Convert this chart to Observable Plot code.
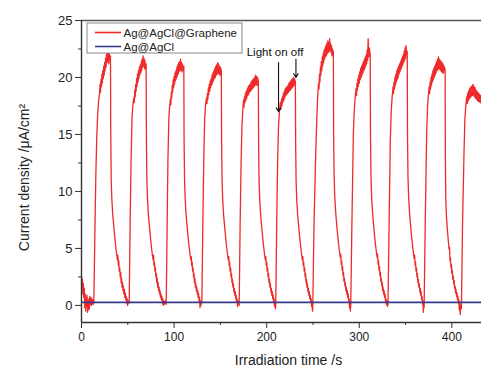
<!DOCTYPE html>
<html>
<head>
<meta charset="utf-8">
<script src="https://cdn.jsdelivr.net/npm/d3@7"></script>
<script src="https://cdn.jsdelivr.net/npm/@observablehq/plot@0.6"></script>
<style>
  body { margin: 0; background: #fff; }
  #chart { width: 481px; height: 369px; overflow: hidden; }
</style>
</head>
<body>
<div id="chart"></div>
<script>
// ---- data: [time (s), current density (µA/cm²)] pairs ----
const pre = [0,2.6, 0.5,1.7, 1,2.3, 1.5,1.0, 2,1.9, 2.5,0.7, 3,1.5, 3.5,-0.2, 4,1.0, 4.5,-0.5, 5,0.7, 5.5,-0.1, 6,0.9, 6.5,-0.6, 7,0.4, 7.5,-0.4, 8,0.6, 8.5,-0.3, 9,0.8, 9.5,0.1, 10,0.7, 10.5,0.0, 11,0.6, 11.5,0.1, 12,0.5, 12.5,0.1, 13,0.4];
const cycle1 = [13.3,0.2, 14.5,6.5, 15.5,11.5, 16.5,14.8, 17.5,16.8, 18.5,18.0, 19.5,18.6, 20,19.4, 20.5,18.7, 21,19.8, 21.5,19.2, 22,20.3, 22.5,19.5, 23,20.6, 23.5,19.9, 24,21.0, 24.5,20.2, 25,21.3, 25.5,20.6, 26,21.7, 26.5,20.9, 27,22.0, 27.5,21.3, 28,22.4, 28.5,21.4, 29,22.2, 29.5,21.2, 30,22.1, 30.5,21.5, 31.3,21.9, 31.6,15, 32.1,11, 32.8,9.3, 33.8,7.9, 34.8,7.0, 35.8,6.1, 36.8,5.3, 37.8,4.6, 38.8,4.0, 39.3,4.4, 39.8,3.5, 40.3,3.9, 40.8,3.0, 41.3,3.3, 41.8,2.5, 42.3,2.9, 42.8,2.0, 43.3,2.4, 43.8,1.6, 44.3,2.0, 44.8,1.3, 45.3,1.7, 45.8,1.0, 46.3,1.4, 46.8,0.7, 47.3,1.1, 47.8,0.5, 48.3,0.8, 48.8,0.2, 49.3,0.6, 49.8,0.0, 50.5,0.4, 51.5,0.2];
const cycle2 = [52.5,7, 53.5,12.5, 54.6,16.5, 55.5,17.6, 56.5,18.2, 57,17.8, 57.5,18.9, 58,18.3, 58.5,19.4, 59,18.8, 59.5,19.9, 60,19.2, 60.5,20.3, 61,19.6, 61.5,20.6, 62,19.9, 62.5,20.9, 63,20.2, 63.5,21.1, 64,20.4, 64.5,21.4, 65,20.6, 65.5,21.6, 66,20.9, 66.5,21.9, 67,21.0, 67.5,21.7, 68,20.8, 68.5,21.5, 69,20.7, 69.8,21.2, 70.1,14.8, 70.6,11, 71.3,9.3, 72.3,7.9, 73.3,7.0, 74.3,6.1, 75.3,5.3, 76.3,4.6, 77.3,4.0, 77.8,4.4, 78.3,3.5, 78.8,3.8, 79.3,3.0, 79.8,3.3, 80.3,2.5, 80.8,2.8, 81.3,2.0, 81.8,2.4, 82.3,1.6, 82.8,2.0, 83.3,1.3, 83.8,1.6, 84.3,1.0, 84.8,1.3, 85.3,0.7, 85.8,1.0, 86.3,0.5, 86.8,0.8, 87.3,0.2, 87.8,0.6, 88.3,0.0, 88.8,0.4, 89.5,0.1, 90.5,0.4, 91.5,0.1];
const cycle3 = [92.5,7, 93.3,12.5, 94.3,16.3, 95,17.3, 96,18.1, 96.5,17.6, 97,18.7, 97.5,18.2, 98,19.3, 98.5,18.7, 99,19.8, 99.5,19.1, 100,20.1, 100.5,19.4, 101,20.4, 101.5,19.7, 102,20.6, 102.5,19.9, 103,20.9, 103.5,20.1, 104,21.1, 104.5,20.3, 105,21.3, 105.5,20.5, 106,21.4, 106.5,20.6, 107,21.6, 107.5,20.7, 108,21.3, 108.5,20.5, 109,21.2, 109.5,20.6, 110.5,21.0, 110.8,14.5, 111.3,11, 112,9.3, 113,7.9, 114,7.0, 115,6.1, 116,5.3, 117,4.6, 118,4.0, 118.5,4.3, 119,3.5, 119.5,3.8, 120,3.0, 120.5,3.3, 121,2.5, 121.5,2.8, 122,2.0, 122.5,2.4, 123,1.6, 123.5,1.9, 124,1.3, 124.5,1.6, 125,1.0, 125.5,1.3, 126,0.7, 126.5,1.0, 127,0.4, 127.5,0.7, 128,-0.2, 128.5,0.4, 129,0.0, 130,0.3];
const cycle4 = [131,7, 132,12.5, 133,16.3, 134,17.6, 135,18.2, 135.5,17.7, 136,18.6, 136.5,18.1, 137,19.1, 137.5,18.5, 138,19.4, 138.5,18.8, 139,19.7, 139.5,19.1, 140,19.9, 140.5,19.3, 141,20.2, 141.5,19.5, 142,20.4, 142.5,19.7, 143,20.6, 143.5,19.9, 144,20.8, 144.5,20.0, 145,21.0, 145.5,20.2, 146,21.1, 146.5,20.3, 147,21.3, 147.5,20.4, 148,21.2, 148.5,20.3, 149,21.0, 149.5,20.2, 150,20.9, 151,20.6, 151.3,14.5, 151.8,11, 152.5,9.3, 153.5,7.9, 154.5,7.0, 155.5,6.1, 156.5,5.3, 157.5,4.6, 158.5,4.0, 159,4.3, 159.5,3.5, 160,3.8, 160.5,3.0, 161,3.3, 161.5,2.5, 162,2.8, 162.5,2.0, 163,2.3, 163.5,1.6, 164,1.9, 164.5,1.2, 165,1.5, 165.5,0.9, 166,1.2, 166.5,0.6, 167,0.9, 167.5,0.3, 168,0.6, 168.5,-0.1, 169,0.4, 170.3,0.0];
const cycle5 = [171.3,7, 172.3,12.3, 173.3,15.8, 174.3,17.3, 175,18.0, 175.5,17.4, 176,18.3, 176.5,17.8, 177,18.6, 177.5,18.0, 178,18.8, 178.5,18.2, 179,19.0, 179.5,18.4, 180,19.2, 180.5,18.5, 181,19.3, 181.5,18.7, 182,19.4, 182.5,18.8, 183,19.6, 183.5,18.9, 184,19.7, 184.5,19.0, 185,19.8, 185.5,19.1, 186,19.9, 186.5,19.2, 187,20.0, 187.5,19.3, 188,20.2, 188.5,19.4, 189,20.1, 189.5,19.3, 190,20.0, 191,19.7, 191.3,14, 191.8,10.8, 192.5,9.2, 193.5,7.9, 194.5,7.0, 195.5,6.1, 196.5,5.3, 197.5,4.6, 198.5,4.0, 199,4.3, 199.5,3.5, 200,3.8, 200.5,3.0, 201,3.3, 201.5,2.5, 202,2.8, 202.5,2.0, 203,2.3, 203.5,1.6, 204,1.9, 204.5,1.2, 205,1.5, 205.5,0.9, 206,1.2, 206.5,0.6, 207,0.9, 207.5,0.3, 208,0.6, 208.5,-0.1, 209,0.3, 209.5,-0.3, 209.8,0.1];
const cycle6 = [210.8,7, 211.8,12.5, 212.8,15.8, 213.8,17.0, 214.7,17.8, 215.2,17.2, 216,18.1, 216.5,17.5, 217,18.3, 217.5,17.8, 218,18.6, 218.5,18.0, 219,18.8, 219.5,18.2, 220,19.0, 220.5,18.4, 221,19.1, 221.5,18.5, 222,19.2, 222.5,18.6, 223,19.3, 223.5,18.7, 224,19.5, 224.5,18.8, 225,19.6, 225.5,18.9, 226,19.7, 226.5,19.0, 227,19.8, 227.5,19.1, 228,19.9, 228.5,19.2, 229,20.0, 229.5,19.3, 230,19.9, 231,19.6, 231.3,14, 231.8,10.8, 232.5,9.2, 233.5,7.9, 234.5,7.0, 235.5,6.1, 236.5,5.3, 237.5,4.6, 238.5,4.0, 239,4.3, 239.5,3.5, 240,3.8, 240.5,3.0, 241,3.3, 241.5,2.5, 242,2.8, 242.5,2.0, 243,2.3, 243.5,1.6, 244,1.9, 244.5,1.2, 245,1.5, 245.5,0.9, 246,1.2, 246.5,0.6, 247,0.9, 247.5,0.3, 248,0.6, 248.5,-0.1, 249,0.3, 249.5,-0.5, 249.8,-0.1];
const cycle7 = [251,6.5, 252.5,12, 254,16.0, 255,18.2, 256,19.5, 256.5,19.0, 257,20.3, 257.5,19.6, 258,20.9, 258.5,20.2, 259,21.4, 259.5,20.6, 260,21.8, 260.5,21.0, 261,22.1, 261.5,21.3, 262,22.4, 262.5,21.6, 263,22.6, 263.5,21.8, 264,22.8, 264.5,21.9, 265,23.0, 265.5,22.1, 266,23.2, 266.5,22.2, 267,23.1, 267.5,22.3, 268,23.4, 268.5,22.4, 269,23.0, 269.5,22.2, 270,22.8, 270.5,21.9, 271,22.5, 272,22.2, 272.3,15, 272.8,11.5, 273.5,9.6, 274.5,8.2, 275.5,7.2, 276.5,6.3, 277.5,5.5, 278.5,4.8, 279.5,4.2, 280,4.5, 280.5,3.6, 281,3.9, 281.5,3.1, 282,3.4, 282.5,2.6, 283,2.9, 283.5,2.1, 284,2.4, 284.5,1.7, 285,2.0, 285.5,1.3, 286,1.6, 286.5,1.0, 287,1.3, 287.5,0.7, 288,1.0, 288.5,0.4, 289,0.6, 289.5,-0.2, 290,0.3, 290.3,-0.5, 290.8,0.0];
const cycle8 = [292,7, 293.6,15.0, 294.5,17.0, 295.5,18.2, 296.5,19.0, 297,18.4, 297.5,19.5, 298,18.9, 298.5,19.9, 299,19.2, 299.5,20.2, 300,19.5, 300.5,20.5, 301,19.8, 301.5,20.8, 302,20.0, 302.5,21.0, 303,20.2, 303.5,21.2, 304,20.4, 304.5,21.4, 305,20.6, 305.5,21.6, 306,20.8, 306.5,21.8, 307,21.0, 307.5,22.0, 308,21.2, 308.5,22.4, 309,21.5, 309.6,23.4, 310.2,21.8, 310.8,22.6, 311.8,22.0, 312.1,15, 312.6,11.5, 313.3,9.6, 314.3,8.2, 315.3,7.2, 316.3,6.3, 317.3,5.5, 318.3,4.8, 319.3,4.2, 319.8,4.5, 320.3,3.6, 320.8,3.9, 321.3,3.1, 321.8,3.4, 322.3,2.6, 322.8,2.9, 323.3,2.1, 323.8,2.4, 324.3,1.7, 324.8,2.0, 325.3,1.3, 325.8,1.6, 326.3,1.0, 326.8,1.3, 327.3,0.7, 327.8,1.0, 328.3,0.4, 328.8,0.6, 329.3,0.1, 329.8,0.4, 330.4,-0.1, 331,0.1];
const cycle9 = [332.2,7, 333.5,14.5, 334.5,17, 335.5,18.3, 336.5,19.2, 337,18.6, 337.5,19.6, 338,19.0, 338.5,20.0, 339,19.3, 339.5,20.3, 340,19.6, 340.5,20.6, 341,19.8, 341.5,20.8, 342,20.0, 342.5,21.0, 343,20.3, 343.5,21.2, 344,20.5, 344.5,21.4, 345,20.7, 345.5,21.6, 346,20.9, 346.5,21.8, 347,21.1, 347.5,22.0, 348,21.3, 348.5,22.3, 349,21.5, 349.5,22.6, 350,21.7, 350.5,22.8, 351,22.0, 351.8,22.3, 352.1,15, 352.6,11.3, 353.3,9.5, 354.3,8.1, 355.3,7.1, 356.3,6.2, 357.3,5.4, 358.3,4.7, 359.3,4.1, 359.8,4.4, 360.3,3.5, 360.8,3.8, 361.3,3.0, 361.8,3.3, 362.3,2.5, 362.8,2.8, 363.3,2.0, 363.8,2.3, 364.3,1.6, 364.8,1.9, 365.3,1.2, 365.8,1.5, 366.3,0.9, 366.8,1.2, 367.3,0.5, 367.8,0.8, 368.3,0.1, 368.8,0.4, 369.2,-0.6, 369.6,0.1, 370,-0.2];
const cycle10 = [371.2,7, 372.8,15.2, 373.8,17.5, 374.8,18.6, 375.5,19.2, 376,18.6, 376.5,19.6, 377,19.0, 377.5,20.0, 378,19.3, 378.5,20.3, 379,19.6, 379.5,20.6, 380,19.8, 380.5,20.8, 381,20.0, 381.5,21.0, 382,20.2, 382.5,21.2, 383,20.4, 383.5,21.4, 384,20.6, 384.5,21.6, 385,20.7, 385.5,21.8, 386,20.8, 386.5,21.6, 387,20.7, 387.5,21.5, 388,20.6, 388.5,21.4, 389,20.5, 389.5,21.3, 390,20.4, 390.5,21.2, 391,20.4, 391.5,21.0, 392.7,20.7, 393,13, 393.4,9.5, 394,8.0, 395,6.8, 396,5.8, 397,4.9, 397.5,5.1, 398,3.9, 398.5,4.2, 399,3.3, 399.5,3.6, 400,2.8, 400.5,3.1, 401,2.3, 401.5,2.6, 402,1.9, 402.5,2.2, 403,1.5, 403.5,1.7, 404,1.1, 404.5,1.4, 405,0.8, 405.5,1.1, 406,0.5, 406.5,0.8, 407,0.2, 407.5,0.5, 408,-0.4, 408.5,0.3, 409,-0.8, 409.5,0.0, 410.3,-0.3];
const cycle11 = [411.5,7, 413,13, 414,16.2, 415,17.5, 416,18.3, 416.5,17.7, 417,18.6, 417.5,17.9, 418,18.8, 418.5,18.1, 419,19.0, 419.5,18.2, 420,19.1, 420.5,18.3, 421,19.2, 421.5,18.4, 422,19.3, 422.5,18.4, 423,19.4, 423.5,18.5, 424,19.2, 424.5,18.3, 425,19.1, 425.5,18.2, 426,18.9, 426.5,18.1, 427,18.8, 427.5,18.0, 428,18.7, 428.5,17.9, 429,18.6, 429.5,17.9, 430,18.5, 430.5,17.8, 431,18.4, 431.5,17.8, 432,18.3, 433,18.0];

const blueTime = [0, 440];
const blueValue = [0.27, 0.27];

const seriesNames = ["Ag@AgCl@Graphene", "Ag@AgCl"];
const seriesColors = ["#ee2a2a", "#3b3a8a"];

const xTicks = [0, 100, 200, 300, 400];
const xMinorTicks = [50, 150, 250, 350];
const yTicks = [0, 5, 10, 15, 20, 25];
const yMinorTicks = [2.5, 7.5, 12.5, 17.5, 22.5];

const xLabel = "Irradiation time /s";
const yLabel = "Current density /μA/cm²";

// annotation "Light on off" with two arrows (data coordinates)
const noteText = [{t: 209, v: 22.2, text: "Light on off"}];
const noteArrows = [
  {t: 212.8, v1: 21.3, v2: 17.0},
  {t: 231.6, v1: 21.6, v2: 20.0}
];

// ---- build tables ----
function pairs(arr) {
  const out = [];
  for (let i = 0; i < arr.length; i += 2) out.push({t: arr[i], v: arr[i + 1]});
  return out;
}
const red = [pre, cycle1, cycle2, cycle3, cycle4, cycle5, cycle6, cycle7, cycle8, cycle9, cycle10, cycle11].flatMap(pairs);
const blue = blueTime.map((t, i) => ({t, v: blueValue[i]}));

const font = "'Liberation Sans', Arial, Helvetica, sans-serif";

const plot = Plot.plot({
  width: 481,
  height: 369,
  marginLeft: 81,
  marginRight: 0,
  marginTop: 20,
  marginBottom: 47,
  style: {fontFamily: font, background: "#fff", color: "#222"},
  x: {domain: [0, 432]},
  y: {domain: [-1.5, 25]},
  marks: [
    Plot.line(red, {x: "t", y: "v", stroke: seriesColors[0], strokeWidth: 1.3, clip: true}),
    Plot.line(blue, {x: "t", y: "v", stroke: seriesColors[1], strokeWidth: 1.8, clip: true}),
    Plot.ruleY([25], {stroke: "#555", strokeWidth: 1.5}),
    Plot.ruleY([-1.5], {stroke: "#333", strokeWidth: 1.4}),
    Plot.ruleX([0], {stroke: "#333", strokeWidth: 1.4}),
    Plot.axisX({ticks: xTicks, tickSize: 6, tickPadding: 4, label: null, fontSize: 12, stroke: "#333"}),
    Plot.axisX({ticks: xMinorTicks, tickSize: 3, tickFormat: () => "", label: null, stroke: "#333"}),
    Plot.axisY({ticks: yTicks, tickSize: 6, tickPadding: 3, label: null, fontSize: 13, stroke: "#333"}),
    Plot.axisY({ticks: yMinorTicks, tickSize: 3, tickFormat: () => "", label: null, stroke: "#333"}),
    Plot.text([xLabel], {frameAnchor: "bottom", lineAnchor: "middle", textAnchor: "middle", dy: 38, dx: 7, fontSize: 14, fill: "#222"}),
    Plot.text([yLabel], {frameAnchor: "left", lineAnchor: "middle", textAnchor: "middle", dx: -57, dy: 6, rotate: -90, fontSize: 14, fill: "#222"}),
    Plot.text(noteText, {x: "t", y: "v", text: "text", fontSize: 11.5, fill: "#111"}),
    Plot.arrow(noteArrows, {x1: "t", y1: "v1", x2: "t", y2: "v2", stroke: "#111", strokeWidth: 1.1, headLength: 6})
  ]
});

// legend box drawn inside the plotting area
const svg = d3.select(plot);
const lg = svg.append("g").attr("font-family", font).attr("font-size", 11.5).attr("text-anchor", "start");
lg.append("rect").attr("x", 87).attr("y", 23).attr("width", 155).attr("height", 30)
  .attr("fill", "#fff").attr("stroke", "#888").attr("stroke-width", 1);
seriesNames.forEach((name, i) => {
  const yy = 32.5 + i * 14;
  lg.append("line").attr("x1", 95).attr("x2", 121).attr("y1", yy).attr("y2", yy)
    .attr("stroke", seriesColors[i]).attr("stroke-width", 1.6);
  lg.append("text").attr("x", 123.5).attr("y", yy).attr("dy", "0.35em")
    .attr("text-anchor", "start").attr("fill", "#222").text(name);
});

document.getElementById("chart").appendChild(plot);
</script>
</body>
</html>
